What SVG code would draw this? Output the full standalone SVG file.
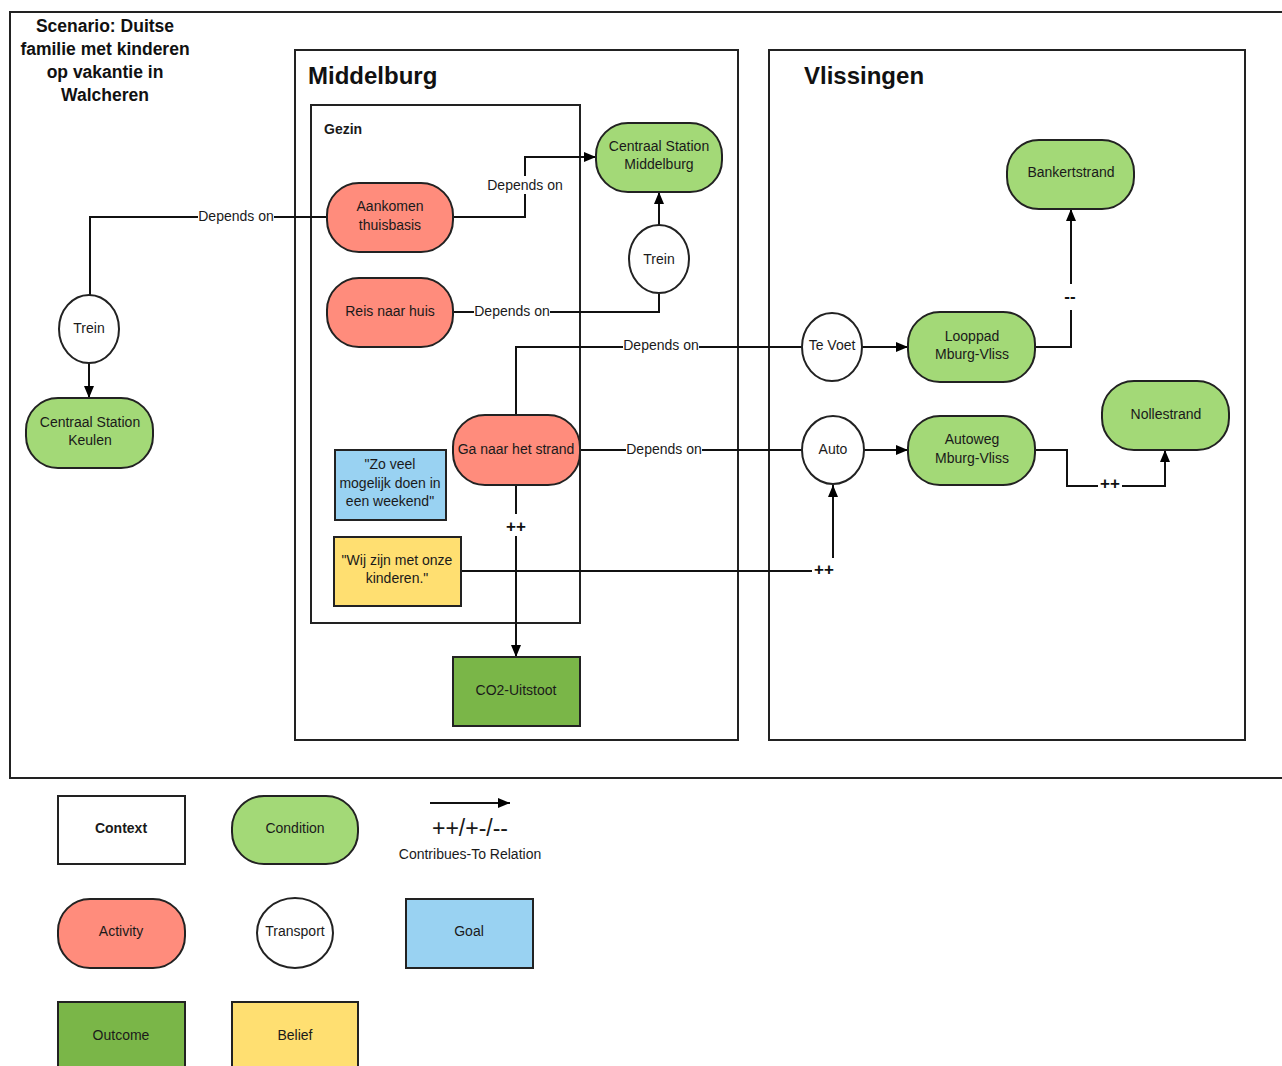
<svg xmlns="http://www.w3.org/2000/svg" width="1282" height="1066" viewBox="0 0 1282 1066">
<defs>
<marker id="arr" viewBox="0 0 12 10" refX="12" refY="5" markerWidth="12" markerHeight="10" markerUnits="userSpaceOnUse" orient="auto">
<path d="M0,0 L12,5 L0,10 z" fill="#000"/>
</marker>
<style>
text{font-family:"Liberation Sans",Arial,sans-serif;font-size:14px;fill:#1a1a1a;text-anchor:middle}
.frame{fill:none;stroke:#222;stroke-width:2}
.cond{fill:#A3D977;stroke:#222;stroke-width:2}
.act{fill:#FF8C7C;stroke:#222;stroke-width:2}
.trans{fill:#fff;stroke:#222;stroke-width:2}
.goal{fill:#99D2F2;stroke:#222;stroke-width:2}
.bel{fill:#FFDF71;stroke:#222;stroke-width:2}
.out{fill:#7AB648;stroke:#222;stroke-width:2}
.ctx{fill:#fff;stroke:#222;stroke-width:2}
.ln{fill:none;stroke:#111;stroke-width:2}
.lbg{fill:#fff}
.b{font-weight:bold}
.big{font-size:24px;font-weight:bold;text-anchor:start;fill:#111}
.ttl{font-size:17.5px;font-weight:bold;fill:#111}
.pp{font-size:17px;font-weight:bold;fill:#111}
</style>
</defs>
<rect x="0" y="0" width="1282" height="1066" fill="#fff"/>

<g id="frames">
<path class="frame" d="M1290,12 H10 V778 H1290"/>
<rect class="frame" x="295" y="50" width="443" height="690"/>
<rect class="frame" x="769" y="50" width="476" height="690"/>
<rect class="frame" x="311" y="105" width="269" height="518"/>
<text class="ttl" x="105" y="32">Scenario: Duitse</text>
<text class="ttl" x="105" y="55">familie met kinderen</text>
<text class="ttl" x="105" y="78">op vakantie in</text>
<text class="ttl" x="105" y="101">Walcheren</text>
<text class="big" x="308" y="84">Middelburg</text>
<text class="big" x="804" y="84">Vlissingen</text>
<text class="b" x="324" y="134" style="text-anchor:start">Gezin</text>
</g>

<g id="connectors">
<path class="ln" d="M453,217 H525 V157 H596" marker-end="url(#arr)"/>
<path class="ln" d="M327,217 H90 V295"/>
<path class="ln" d="M89,363 V398" marker-end="url(#arr)"/>
<path class="ln" d="M453,312 H659 V294"/>
<path class="ln" d="M659,225 V192" marker-end="url(#arr)"/>
<path class="ln" d="M516,415 V347 H802"/>
<path class="ln" d="M580,450 H802"/>
<path class="ln" d="M516,485 V657" marker-end="url(#arr)"/>
<path class="ln" d="M461,571 H833 V485" marker-end="url(#arr)"/>
<path class="ln" d="M862,347 H908" marker-end="url(#arr)"/>
<path class="ln" d="M864,450 H908" marker-end="url(#arr)"/>
<path class="ln" d="M1035,347 H1071 V209" marker-end="url(#arr)"/>
<path class="ln" d="M1035,450 H1067 V486 H1165 V450" marker-end="url(#arr)"/>

<rect class="lbg" x="486" y="176" width="78" height="18"/>
<text x="525" y="190">Depends on</text>
<rect class="lbg" x="198" y="208" width="76" height="16"/>
<text x="236" y="221">Depends on</text>
<rect class="lbg" x="474" y="303" width="76" height="16"/>
<text x="512" y="316">Depends on</text>
<rect class="lbg" x="623" y="337" width="76" height="16"/>
<text x="661" y="350">Depends on</text>
<rect class="lbg" x="626" y="441" width="76" height="16"/>
<text x="664" y="454">Depends on</text>
<rect class="lbg" x="503" y="514" width="26" height="22"/>
<text class="pp" x="516" y="532">++</text>
<rect class="lbg" x="812" y="558" width="24" height="20"/>
<text class="pp" x="824" y="575">++</text>
<rect class="lbg" x="1060" y="284" width="22" height="26"/>
<text class="pp" x="1070" y="302">--</text>
<rect class="lbg" x="1098" y="476" width="24" height="18"/>
<text class="pp" x="1110" y="489">++</text>
</g>

<g id="n-aankomen"><rect class="act" x="327" y="183" width="126" height="69" rx="32"/><text x="390" y="211">Aankomen</text><text x="390" y="230">thuisbasis</text></g>
<g id="n-reis"><rect class="act" x="327" y="278" width="126" height="69" rx="32"/><text x="390" y="316">Reis naar huis</text></g>
<g id="n-csm"><rect class="cond" x="596" y="123" width="126" height="69" rx="32"/><text x="659" y="151">Centraal Station</text><text x="659" y="169">Middelburg</text></g>
<g id="n-trein-m"><ellipse class="trans" cx="659" cy="259" rx="30" ry="34"/><text x="659" y="264">Trein</text></g>
<g id="n-strand"><rect class="act" x="453" y="415" width="127" height="70" rx="32"/><text x="516" y="454">Ga naar het strand</text></g>
<g id="n-goal"><rect class="goal" x="335" y="450" width="111" height="70"/><text x="390" y="469">"Zo veel</text><text x="390" y="488">mogelijk doen in</text><text x="390" y="506">een weekend"</text></g>
<g id="n-belief"><rect class="bel" x="334" y="537" width="127" height="69"/><text x="397" y="565">"Wij zijn met onze</text><text x="397" y="583">kinderen."</text></g>
<g id="n-co2"><rect class="out" x="453" y="657" width="127" height="69"/><text x="516" y="695">CO2-Uitstoot</text></g>
<g id="n-trein-k"><ellipse class="trans" cx="89" cy="329" rx="30" ry="34"/><text x="89" y="333">Trein</text></g>
<g id="n-csk"><rect class="cond" x="26" y="398" width="127" height="70" rx="32"/><text x="90" y="427">Centraal Station</text><text x="90" y="445">Keulen</text></g>
<g id="n-tevoet"><ellipse class="trans" cx="832" cy="347" rx="30" ry="34"/><text x="832" y="350">Te Voet</text></g>
<g id="n-auto"><ellipse class="trans" cx="833" cy="450" rx="31" ry="34"/><text x="833" y="454">Auto</text></g>
<g id="n-looppad"><rect class="cond" x="908" y="312" width="127" height="70" rx="32"/><text x="972" y="341">Looppad</text><text x="972" y="359">Mburg-Vliss</text></g>
<g id="n-autoweg"><rect class="cond" x="908" y="416" width="127" height="69" rx="32"/><text x="972" y="444">Autoweg</text><text x="972" y="463">Mburg-Vliss</text></g>
<g id="n-banker"><rect class="cond" x="1007" y="140" width="127" height="69" rx="32"/><text x="1071" y="177">Bankertstrand</text></g>
<g id="n-nolle"><rect class="cond" x="1102" y="381" width="127" height="69" rx="32"/><text x="1166" y="419">Nollestrand</text></g>

<g id="legend">
<g id="lg-context"><rect class="ctx" x="58" y="796" width="127" height="68"/><text class="b" x="121" y="833">Context</text></g>
<g id="lg-condition"><rect class="cond" x="232" y="796" width="126" height="68" rx="32"/><text x="295" y="833">Condition</text></g>
<g id="lg-relation"><path class="ln" d="M430,803 H510" marker-end="url(#arr)"/><text x="470" y="836" style="font-size:23px">++/+-/--</text><text x="470" y="859">Contribues-To Relation</text></g>
<g id="lg-activity"><rect class="act" x="58" y="899" width="127" height="69" rx="32"/><text x="121" y="936">Activity</text></g>
<g id="lg-transport"><ellipse class="trans" cx="295" cy="933" rx="38" ry="35"/><text x="295" y="936">Transport</text></g>
<g id="lg-goal"><rect class="goal" x="406" y="899" width="127" height="69"/><text x="469" y="936">Goal</text></g>
<g id="lg-outcome"><rect class="out" x="58" y="1002" width="127" height="70"/><text x="121" y="1040">Outcome</text></g>
<g id="lg-belief"><rect class="bel" x="232" y="1002" width="126" height="70"/><text x="295" y="1040">Belief</text></g>
</g>
</svg>
